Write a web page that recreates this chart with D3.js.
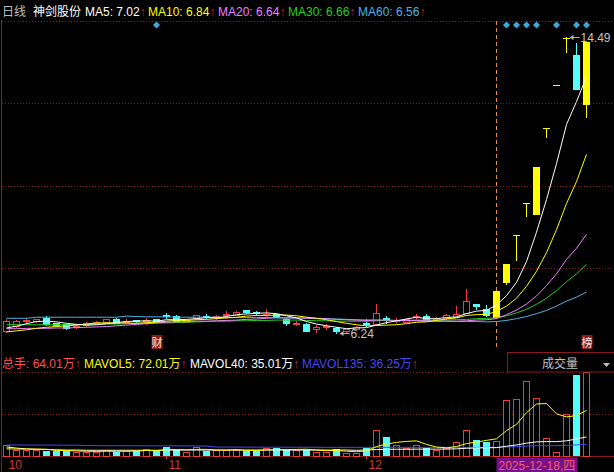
<!DOCTYPE html>
<html>
<head>
<meta charset="utf-8">
<script src="https://cdn.jsdelivr.net/npm/d3@7"></script>
<style>
  html, body { margin: 0; padding: 0; background: #000; }
  svg { display: block; }
  text { font-family: "Liberation Sans", Arial, "Noto Sans CJK SC", sans-serif; font-size: 12px; }
</style>
</head>
<body>
<svg id="chart" width="614" height="472"></svg>
<script>
// ---------------- DATA ----------------
const stockName = '神剑股份';
const period = '日线';

const dates = [
  '2025-10-10','2025-10-13','2025-10-14','2025-10-15','2025-10-16','2025-10-17',
  '2025-10-20','2025-10-21','2025-10-22','2025-10-23','2025-10-24',
  '2025-10-27','2025-10-28','2025-10-29','2025-10-30','2025-10-31',
  '2025-11-03','2025-11-04','2025-11-05','2025-11-06','2025-11-07',
  '2025-11-10','2025-11-11','2025-11-12','2025-11-13','2025-11-14',
  '2025-11-17','2025-11-18','2025-11-19','2025-11-20','2025-11-21',
  '2025-11-24','2025-11-25','2025-11-26','2025-11-27','2025-11-28',
  '2025-12-01','2025-12-02','2025-12-03','2025-12-04','2025-12-05',
  '2025-12-08','2025-12-09','2025-12-10','2025-12-11','2025-12-12',
  '2025-12-15','2025-12-16','2025-12-17','2025-12-18','2025-12-19',
  '2025-12-22','2025-12-23','2025-12-24','2025-12-25','2025-12-26',
  '2025-12-29','2025-12-30','2025-12-31'
];

const open  = [6.30,6.44,6.58,6.58,6.66,6.52,6.49,6.40,6.46,6.53, 6.55,6.64,6.54,6.59,6.57,6.62,6.75,6.72,6.56,6.65,
               6.72,6.68,6.74,6.74,6.87,6.82,6.76,6.77,6.62,6.50, 6.50,6.36,6.40,6.39,6.30,6.35,6.51,6.48,6.66,6.58,
               6.55,6.69,6.71,6.62,6.65,6.69,6.81,7.05,6.92,6.69, 7.66,8.97,9.87,9.56,11.95,13.14,14.45,13.99,12.62];
const high  = [6.62,6.60,6.66,6.64,6.71,6.53,6.50,6.45,6.54,6.58, 6.64,6.66,6.63,6.60,6.66,6.64,6.80,6.73,6.63,6.75,
               6.78,6.73,6.85,6.84,6.88,6.84,6.92,6.78,6.66,6.57, 6.52,6.47,6.49,6.41,6.36,6.44,6.64,7.04,6.71,6.67,
               6.66,6.78,6.77,6.68,6.76,6.98,7.46,7.06,7.01,7.41, 8.15,8.97,9.87,10.86,11.95,13.14,14.49,14.32,14.34];
const low   = [6.27,6.42,6.52,6.56,6.47,6.44,6.35,6.38,6.44,6.51, 6.54,6.52,6.51,6.55,6.49,6.57,6.66,6.57,6.54,6.64,
               6.65,6.63,6.67,6.73,6.80,6.74,6.70,6.68,6.46,6.47, 6.29,6.27,6.35,6.24,6.27,6.33,6.44,6.47,6.53,6.52,
               6.54,6.63,6.59,6.60,6.64,6.68,6.80,6.92,6.71,6.66, 7.61,8.27,9.50,9.56,11.70,13.14,14.07,13.04,12.26];
const close = [6.58,6.57,6.60,6.62,6.48,6.47,6.38,6.43,6.52,6.55, 6.62,6.53,6.57,6.58,6.60,6.58,6.72,6.58,6.60,6.73,
               6.70,6.71,6.78,6.83,6.82,6.79,6.78,6.70,6.51,6.53, 6.30,6.41,6.44,6.30,6.34,6.40,6.48,6.80,6.62,6.61,
               6.64,6.72,6.60,6.64,6.74,6.77,7.13,6.99,6.74,7.41, 8.15,8.97,9.87,10.86,11.95,13.14,14.45,13.04,14.34];

const ma5  = [6.38,6.43,6.50,6.56,6.57,6.55,6.51,6.48,6.46,6.47, 6.50,6.53,6.56,6.57,6.58,6.57,6.61,6.61,6.62,6.64,
              6.67,6.66,6.70,6.75,6.77,6.79,6.80,6.78,6.72,6.66, 6.56,6.49,6.44,6.40,6.36,6.38,6.39,6.46,6.53,6.58,
              6.63,6.68,6.64,6.64,6.67,6.69,6.78,6.85,6.87,7.02, 7.28,7.65,8.23,9.05,9.96,10.96,12.05,12.69,13.38];
const ma10 = [6.27,6.30,6.33,6.37,6.40,6.42,6.44,6.46,6.49,6.52, 6.52,6.52,6.52,6.51,6.53,6.54,6.57,6.59,6.59,6.61,
              6.62,6.64,6.66,6.68,6.71,6.73,6.73,6.74,6.74,6.72, 6.68,6.65,6.61,6.56,6.51,6.47,6.44,6.45,6.46,6.47,
              6.50,6.54,6.55,6.59,6.63,6.66,6.73,6.75,6.76,6.84, 6.99,7.21,7.54,7.96,8.48,9.12,9.85,10.46,11.22];
const ma20 = [6.36,6.36,6.37,6.37,6.37,6.38,6.38,6.39,6.40,6.41, 6.42,6.44,6.46,6.48,6.50,6.52,6.54,6.55,6.56,6.57,
              6.57,6.58,6.59,6.60,6.62,6.63,6.65,6.67,6.66,6.66, 6.65,6.64,6.64,6.62,6.61,6.60,6.59,6.60,6.60,6.59,
              6.59,6.59,6.58,6.57,6.57,6.57,6.58,6.60,6.61,6.64, 6.75,6.88,7.05,7.27,7.56,7.89,8.29,8.60,8.99];
const ma30 = [6.47,6.47,6.47,6.47,6.47,6.47,6.47,6.47,6.48,6.48, 6.49,6.49,6.50,6.51,6.51,6.52,6.52,6.53,6.54,6.55,
              6.56,6.57,6.57,6.58,6.58,6.59,6.59,6.60,6.60,6.60, 6.59,6.58,6.58,6.57,6.57,6.57,6.57,6.58,6.59,6.59,
              6.59,6.60,6.60,6.60,6.60,6.61,6.62,6.64,6.65,6.66, 6.72,6.80,6.90,7.04,7.21,7.42,7.67,7.89,8.15];
const ma60 = [6.65,6.65,6.65,6.68,6.68,6.68,6.68,6.68,6.68,6.68, 6.68,6.68,6.71,6.70,6.69,6.69,6.69,6.68,6.68,6.68,
              6.68,6.68,6.67,6.67,6.67,6.67,6.67,6.66,6.66,6.66, 6.66,6.65,6.64,6.63,6.62,6.61,6.60,6.60,6.59,6.59,
              6.58,6.58,6.57,6.57,6.57,6.56,6.56,6.56,6.55,6.56, 6.59,6.64,6.70,6.78,6.87,6.99,7.13,7.24,7.38];

// volume in 万手
const volume   = [46,25,25,25,21,21,21,18,18,18, 25,18,22,21,29,21,39,25,15,39,
                  21,25,25,25,21,21,35,32,25,25, 25,18,18,29,11,14,35,109,81,46,
                  35,46,35,25,32,60,108,67,60,64.01, 234,238,313,241,74,17,175,339,352];
const mavol5   = [30,29,29,29,28.4,23.4,22.6,21.2,19.8,19.2, 20.0,19.4,20.2,20.8,23.0,22.2,26.4,27.0,25.8,27.8,
                  27.8,25.0,25.0,27.0,23.4,23.4,25.4,26.8,26.8,27.6, 28.4,25.0,22.2,23.0,20.2,18.0,21.4,39.6,50.0,57.0,
                  61.2,63.4,48.6,37.4,34.6,39.6,52.0,58.4,65.4,72.01, 106.6,132.6,181.8,218,220,176.6,164,169.2,191.4];
const mavol40  = [38,33,30,28,27,26,25,25,24,24, 24,24,24,24,24,24,25,25,25,25,
                  25,25,25,25,25,25,25,25,25,25, 25,25,25,25,25,24,25,27,28,28.3,
                  28.1,28.6,28.8,28.8,29.1,30.1,32.3,33.5,34.5,35.01, 40.9,46.4,53.7,59.2,60.3,60.2,63.6,71.5,79.9];
const mavol135 = [46.0,46.1,46.0,45.9,45.8,45.6,45.5,45.3,43.5,43.3, 43.2,43.0,42.9,42.8,42.6,42.5,42.4,42.3,42.1,42.0,
                  41.8,37.5,37.4,37.3,37.2,37.1,37.0,36.9,36.8,36.8, 36.7,36.6,36.5,36.4,36.3,36.2,36.1,36.0,36.2,36.3,
                  36.3,36.2,36.2,36.1,36.1,36.0,36.0,36.1,36.2,36.25, 37.8,39.3,41.4,43.0,43.3,43.2,44.3,46.6,49.0];

const infoMineDates = ['2025-10-31','2025-12-19','2025-12-22','2025-12-23','2025-12-24','2025-12-26','2025-12-30','2025-12-31'];
const eventMarks = [{date: '2025-10-31', text: '财'}, {date: '2025-12-31', text: '榜'}];
const cursorDate = '2025-12-18';
const weekdays = ['日','一','二','三','四','五','六'];

// ---------------- STYLE ----------------
const C = {
  bg: '#000', grid: '#8a1a1a', frame: '#8a1a1a',
  up: '#f03c3c', down: '#54fcfc', limit: '#ffff00',
  ma5: '#ffffff', ma10: '#ffff00', ma20: '#f080ff', ma30: '#20d020', ma60: '#48b4e8',
  arrow: '#c83030', label: '#c0c0c0', axis: '#c83c3c',
  vol: '#ff5050', mv5: '#ffff00', mv40: '#ffffff', mv135: '#4848f0',
  info: '#3ca8d8', mark: '#8c1c1c', cursor: '#e0904c', dateBg: '#74108a', dateFg: '#ff5c5c'
};

const svg = d3.select('#chart');
svg.append('rect').attr('width', 614).attr('height', 472).attr('fill', C.bg);

const n = dates.length;
const x = d3.scaleBand().domain(dates).range([1.5, 1.5 + 10 * n]);
const cx = d => x(d) + x.bandwidth() / 2;

const P = {top: 21, bottom: 350};
const y = d3.scaleLinear().domain([d3.min(low), d3.max(high)]).range([333, 37]);
const V = {top: 372, bottom: 456};
const vy = d3.scaleLinear().domain([0, d3.max(volume)]).range([V.bottom, V.top]);

const bars = dates.map((d, i) => ({
  date: d, o: open[i], h: high[i], l: low[i], c: close[i], v: volume[i],
  limit: i > 0 && close[i] >= close[i - 1] * 1.1 - 0.01
}));

// hollow box drawn as an outer filled rect with a black inner rect, pixel-exact
function hollow(g, x0, y0, w, h, col) {
  g.append('rect').attr('x', x0).attr('y', y0).attr('width', w).attr('height', h).attr('fill', col);
  if (w > 2 && h > 2)
    g.append('rect').attr('x', x0 + 1).attr('y', y0 + 1).attr('width', w - 2).attr('height', h - 2).attr('fill', C.bg);
}

//--------------GRID---------------------------------------
const grid = svg.append('g').attr('stroke', C.grid).attr('stroke-dasharray', '1,2')
                .attr('shape-rendering', 'crispEdges');
d3.range(4).forEach(k => {
  const yy = Math.round(P.top + k * (P.bottom - P.top) / 4) + 0.5;
  grid.append('line').attr('x1', 2).attr('x2', 614).attr('y1', yy).attr('y2', yy);
});
grid.append('line').attr('x1', 2).attr('x2', 507).attr('y1', V.top + 0.5).attr('y2', V.top + 0.5);
grid.append('line').attr('x1', 2).attr('x2', 614)
    .attr('y1', (V.top + V.bottom) / 2 + 0.5).attr('y2', (V.top + V.bottom) / 2 + 0.5);

const frame = svg.append('g').attr('stroke', C.frame).attr('shape-rendering', 'crispEdges');
frame.append('line').attr('x1', 1.5).attr('x2', 1.5).attr('y1', 20).attr('y2', 472);
frame.append('line').attr('x1', 2).attr('x2', 614).attr('y1', V.bottom + 0.5).attr('y2', V.bottom + 0.5);

//--------------CURSOR-------------------------------------
const cur = dates.indexOf(cursorDate);
const curX = cx(cursorDate);
svg.append('line').attr('x1', curX).attr('x2', curX).attr('y1', P.top).attr('y2', P.bottom)
   .attr('stroke', C.cursor).attr('stroke-dasharray', '4,3');

//--------------CANDLES------------------------------------
const cg = svg.append('g').attr('shape-rendering', 'crispEdges');
bars.forEach(b => {
  const xc = cx(b.date), xl = xc - 3.5;
  const col = b.limit ? C.limit : (b.c >= b.o ? C.up : C.down);
  const yh = Math.round(y(b.h)), yl = Math.round(y(b.l));
  const yt = Math.round(y(Math.max(b.o, b.c))), yb = Math.round(y(Math.min(b.o, b.c)));
  if (yl > yh) cg.append('rect').attr('x', xc - 0.5).attr('y', yh).attr('width', 1).attr('height', yl - yh + 1).attr('fill', col);
  if (yb - yt < 1) {
    cg.append('rect').attr('x', xl).attr('y', yt).attr('width', 7).attr('height', 1).attr('fill', col);
  } else if (!b.limit && b.c >= b.o) {
    hollow(cg, xl, yt, 7, yb - yt + 1, col);
  } else {
    cg.append('rect').attr('x', xl).attr('y', yt).attr('width', 7).attr('height', yb - yt + 1).attr('fill', col);
  }
});

//--------------MA LINES-----------------------------------
const priceLine = d3.line().x((d, i) => cx(dates[i])).y(d => y(d));
[[ma60, C.ma60], [ma30, C.ma30], [ma20, C.ma20], [ma10, C.ma10], [ma5, C.ma5]].forEach(([s, col]) => {
  svg.append('path').datum(s).attr('d', priceLine).attr('fill', 'none').attr('stroke', col).attr('stroke-width', 1);
});

//--------------HIGH / LOW MARKS---------------------------
function extremeMark(i, value) {
  const xc = cx(dates[i]), yy = Math.round(y(value)) + 0.5;
  const g = svg.append('g');
  g.append('line').attr('x1', xc + 4).attr('x2', xc + 13).attr('y1', yy).attr('y2', yy).attr('stroke', '#b4b4b4');
  g.append('path').attr('d', `M${xc + 3},${yy}L${xc + 7},${yy - 2.5}L${xc + 7},${yy + 2.5}Z`).attr('fill', '#b4b4b4');
  g.append('text').attr('x', xc + 14).attr('y', yy + 4.5).attr('fill', '#c4c4c4').text(value.toFixed(2));
}
extremeMark(d3.maxIndex(high), d3.max(high));
extremeMark(d3.minIndex(low), d3.min(low));

//--------------INFO MARKS---------------------------------
infoMineDates.forEach(d => {
  const xc = cx(d);
  svg.append('path').attr('d', `M${xc},21.5L${xc + 3.5},25L${xc},28.5L${xc - 3.5},25Z`).attr('fill', C.info);
});
eventMarks.forEach(m => {
  const xc = cx(m.date);
  svg.append('rect').attr('x', xc - 5).attr('y', 335).attr('width', 11).attr('height', 14).attr('fill', C.mark);
  svg.append('text').attr('x', xc + 0.5).attr('y', 346.5).attr('text-anchor', 'middle')
     .attr('fill', '#f0f0f0').style('font-size', '11px').text(m.text);
});

//--------------VOLUME-------------------------------------
const vg = svg.append('g').attr('shape-rendering', 'crispEdges');
bars.forEach(b => {
  const xl = cx(b.date) - 3.5;
  const top = Math.round(vy(b.v));
  if (b.c >= b.o) hollow(vg, xl, top, 7, V.bottom - top + 1, C.up);
  else vg.append('rect').attr('x', xl).attr('y', top).attr('width', 7).attr('height', V.bottom - top).attr('fill', C.down);
});
const volLine = d3.line().x((d, i) => cx(dates[i])).y(d => vy(d));
[[mavol135, C.mv135], [mavol40, C.mv40], [mavol5, C.mv5]].forEach(([s, col]) => {
  svg.append('path').datum(s).attr('d', volLine).attr('fill', 'none').attr('stroke', col).attr('stroke-width', 1);
});

//--------------LEGENDS------------------------------------
function legendItem(xPos, yPos, parts) {
  const t = svg.append('text').attr('x', xPos).attr('y', yPos);
  parts.forEach(([txt, col]) => t.append('tspan').attr('fill', col).text(txt));
}
const f2 = v => v.toFixed(2);
legendItem(2, 16, [[period, C.label]]);
legendItem(33, 16, [[stockName, '#ffffff']]);
legendItem(85, 16, [['MA5: ' + f2(ma5[cur]), C.ma5], ['↑', C.arrow]]);
legendItem(148, 16, [['MA10: ' + f2(ma10[cur]), C.ma10], ['↑', C.arrow]]);
legendItem(218, 16, [['MA20: ' + f2(ma20[cur]), C.ma20], ['↑', C.arrow]]);
legendItem(288, 16, [['MA30: ' + f2(ma30[cur]), C.ma30], ['↑', C.arrow]]);
legendItem(358, 16, [['MA60: ' + f2(ma60[cur]), C.ma60], ['↑', C.arrow]]);

legendItem(2, 368, [['总手: ' + f2(volume[cur]) + '万', C.vol], ['↑', C.arrow]]);
legendItem(84, 368, [['MAVOL5: ' + f2(mavol5[cur]) + '万', C.mv5], ['↑', C.arrow]]);
legendItem(190, 368, [['MAVOL40: ' + f2(mavol40[cur]) + '万', C.mv40], ['↑', C.arrow]]);
legendItem(302, 368, [['MAVOL135: ' + f2(mavol135[cur]) + '万', C.mv135], ['↑', C.arrow]]);

// indicator selector box
svg.append('rect').attr('x', 507.5).attr('y', 352.5).attr('width', 107).attr('height', 19.5)
   .attr('fill', C.bg).attr('stroke', C.frame);
svg.append('text').attr('x', 542).attr('y', 368).attr('fill', C.label).text('成交量');
svg.append('path').attr('d', 'M603,363L610,363L606.5,367Z').attr('fill', C.label);

//--------------X AXIS-------------------------------------
const monthStarts = dates.filter((d, i) => i === 0 || d.slice(5, 7) !== dates[i - 1].slice(5, 7));
monthStarts.forEach((d, k) => {
  const xc = cx(d);
  if (k > 0) svg.append('line').attr('x1', xc - 0.5).attr('x2', xc - 0.5).attr('y1', V.bottom).attr('y2', V.bottom + 3)
                .attr('stroke', C.axis).attr('shape-rendering', 'crispEdges');
  svg.append('text').attr('x', Math.max(3, xc + 2)).attr('y', 469).attr('fill', C.axis)
     .text(String(+d.slice(5, 7)));
});

const cd = new Date(cursorDate + 'T00:00:00');
const dateLabel = cursorDate + ',' + weekdays[cd.getDay()];
svg.append('rect').attr('x', curX).attr('y', 457.5).attr('width', 81).attr('height', 14.5).attr('fill', C.dateBg);
svg.append('text').attr('x', curX + 2).attr('y', 469.5).attr('fill', C.dateFg).text(dateLabel);
</script>
</body>
</html>
